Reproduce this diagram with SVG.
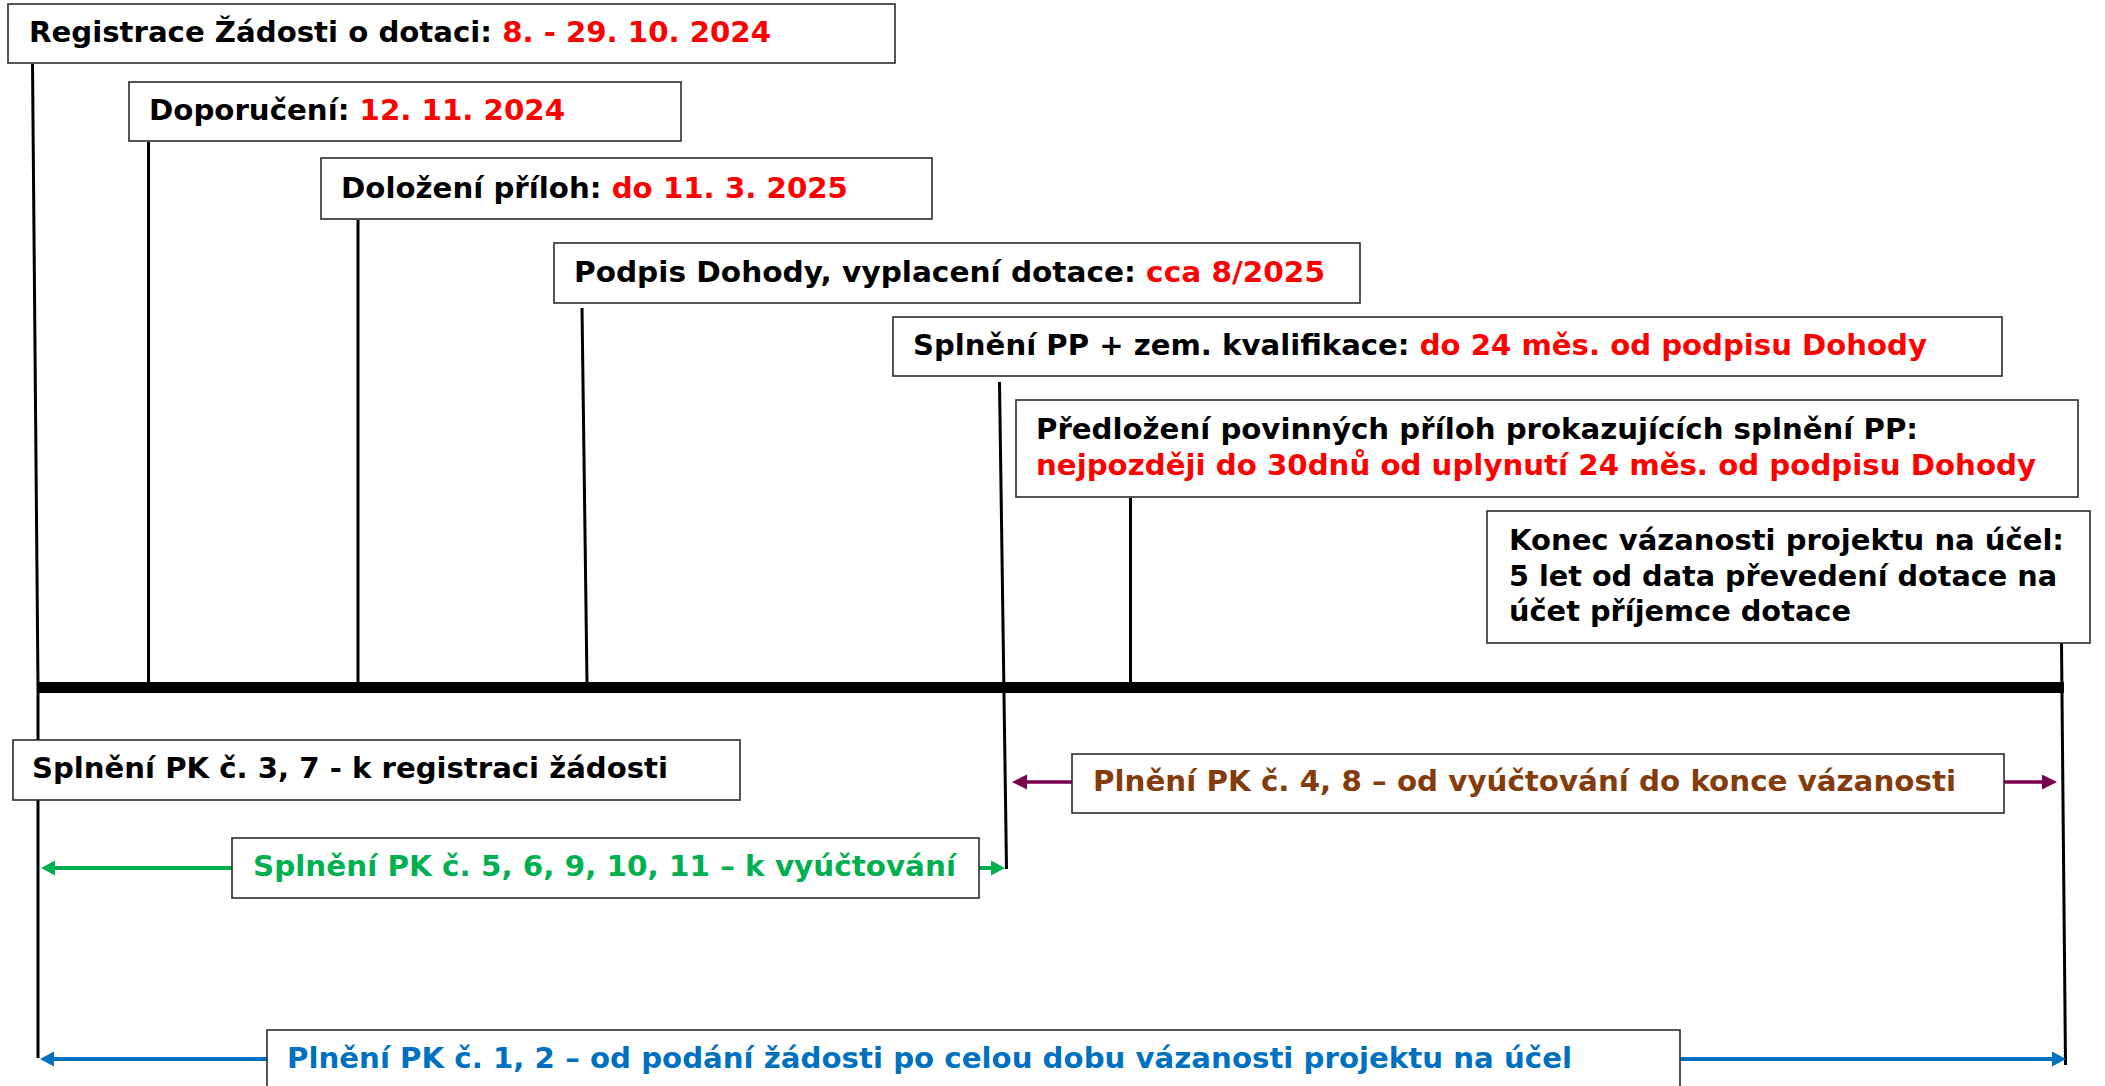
<svg xmlns="http://www.w3.org/2000/svg" width="2105" height="1086" viewBox="0 0 2105 1086">
<style>
  .bg { fill: #ffffff; }
  .box { fill: #ffffff; stroke: #2b2b2b; stroke-width: 1.6; }
  .t { font-family: "DejaVu Sans", Verdana, sans-serif; font-weight: bold; font-size: 29px; fill: #000000; }
  .red { fill: #ff0000; }
  .green { fill: #00b050; }
  .blue { fill: #0070c0; }
  .brown { fill: #843c0c; }
  .vline { stroke: #000000; stroke-width: 3; fill: none; }
  .axis { stroke: #000000; stroke-width: 11; }
  .ga { stroke: #00b050; stroke-width: 4; fill: none; }
  .pa { stroke: #7a0050; stroke-width: 3.5; fill: none; }
  .ba { stroke: #0070c0; stroke-width: 4; fill: none; }
</style>
<defs>
  <marker id="mg" markerUnits="userSpaceOnUse" markerWidth="16" markerHeight="16" refX="6" refY="7.5" orient="auto">
    <path d="M0,0 L14,7.5 L0,15 z" fill="#00b050"/>
  </marker>
  <marker id="mp" markerUnits="userSpaceOnUse" markerWidth="16" markerHeight="16" refX="6" refY="7.5" orient="auto">
    <path d="M0,0 L15,7.5 L0,15 z" fill="#7a0050"/>
  </marker>
  <marker id="mb" markerUnits="userSpaceOnUse" markerWidth="16" markerHeight="16" refX="6" refY="7.5" orient="auto">
    <path d="M0,0 L14,7.5 L0,15 z" fill="#0070c0"/>
  </marker>
</defs>
<rect class="bg" x="0" y="0" width="2105" height="1086"/>

<g id="connectors">
  <polyline class="vline" points="32.5,64 38,687 38,1058"/>
  <line class="vline" x1="148.5" y1="142" x2="148.5" y2="683"/>
  <line class="vline" x1="358" y1="220" x2="358" y2="683"/>
  <line class="vline" x1="582" y1="308" x2="587" y2="683"/>
  <line class="vline" x1="999.5" y1="382" x2="1006.5" y2="869"/>
  <line class="vline" x1="1130.5" y1="498" x2="1130.5" y2="683"/>
  <line class="vline" x1="2061.5" y1="643" x2="2065.5" y2="1065"/>
  <line class="axis" x1="38" y1="687.5" x2="2064" y2="687.5"/>
  <line class="ga" x1="232" y1="868" x2="49" y2="868" marker-end="url(#mg)"/>
  <line class="ga" x1="979" y1="868" x2="997" y2="868" marker-end="url(#mg)"/>
  <line class="pa" x1="1072" y1="782" x2="1021" y2="782" marker-end="url(#mp)"/>
  <line class="pa" x1="2004" y1="782" x2="2048" y2="782" marker-end="url(#mp)"/>
  <line class="ba" x1="267" y1="1059" x2="48" y2="1059" marker-end="url(#mb)"/>
  <line class="ba" x1="1680" y1="1059" x2="2058" y2="1059" marker-end="url(#mb)"/>
</g>

<g id="registrace">
  <rect class="box" x="8" y="4" width="887" height="59"/>
  <text class="t" x="29" y="42" textLength="742" lengthAdjust="spacingAndGlyphs">Registrace Žádosti o dotaci: <tspan class="red">8. - 29. 10. 2024</tspan></text>
</g>
<g id="doporuceni">
  <rect class="box" x="129" y="82" width="552" height="59"/>
  <text class="t" x="149" y="120" textLength="416" lengthAdjust="spacingAndGlyphs">Doporučení: <tspan class="red">12. 11. 2024</tspan></text>
</g>
<g id="dolozeni">
  <rect class="box" x="321" y="158" width="611" height="61"/>
  <text class="t" x="341" y="198" textLength="507" lengthAdjust="spacingAndGlyphs">Doložení příloh: <tspan class="red">do 11. 3. 2025</tspan></text>
</g>
<g id="podpis">
  <rect class="box" x="554" y="243" width="806" height="60"/>
  <text class="t" x="574" y="282" textLength="751" lengthAdjust="spacingAndGlyphs">Podpis Dohody, vyplacení dotace: <tspan class="red">cca 8/2025</tspan></text>
</g>
<g id="splneni-pp">
  <rect class="box" x="893" y="317" width="1109" height="59"/>
  <text class="t" x="913" y="355" textLength="1014" lengthAdjust="spacingAndGlyphs">Splnění PP + zem. kvalifikace: <tspan class="red">do 24 měs. od podpisu Dohody</tspan></text>
</g>
<g id="predlozeni">
  <rect class="box" x="1016" y="400" width="1062" height="97"/>
  <text class="t" x="1036" y="439" textLength="882" lengthAdjust="spacingAndGlyphs">Předložení povinných příloh prokazujících splnění PP:</text>
  <text class="t red" x="1036" y="475" textLength="1000" lengthAdjust="spacingAndGlyphs">nejpozději do 30dnů od uplynutí 24 měs. od podpisu Dohody</text>
</g>
<g id="konec">
  <rect class="box" x="1487" y="511" width="603" height="132"/>
  <text class="t" x="1509" y="550" textLength="555" lengthAdjust="spacingAndGlyphs">Konec vázanosti projektu na účel:</text>
  <text class="t" x="1509" y="586" textLength="548" lengthAdjust="spacingAndGlyphs">5 let od data převedení dotace na</text>
  <text class="t" x="1509" y="621" textLength="342" lengthAdjust="spacingAndGlyphs">účet příjemce dotace</text>
</g>
<g id="pk37">
  <rect class="box" x="13" y="740" width="727" height="60"/>
  <text class="t" x="32" y="778" textLength="636" lengthAdjust="spacingAndGlyphs">Splnění PK č. 3, 7 - k registraci žádosti</text>
</g>
<g id="pk48">
  <rect class="box" x="1072" y="754" width="932" height="59"/>
  <text class="t brown" x="1093" y="791" textLength="863" lengthAdjust="spacingAndGlyphs">Plnění PK č. 4, 8 – od vyúčtování do konce vázanosti</text>
</g>
<g id="pk5691011">
  <rect class="box" x="232" y="838" width="747" height="60"/>
  <text class="t green" x="253" y="876" textLength="703" lengthAdjust="spacingAndGlyphs">Splnění PK č. 5, 6, 9, 10, 11 – k vyúčtování</text>
</g>
<g id="pk12">
  <rect class="box" x="267" y="1030" width="1413" height="80"/>
  <text class="t blue" x="287" y="1068" textLength="1285" lengthAdjust="spacingAndGlyphs">Plnění PK č. 1, 2 – od podání žádosti po celou dobu vázanosti projektu na účel</text>
</g>
</svg>
